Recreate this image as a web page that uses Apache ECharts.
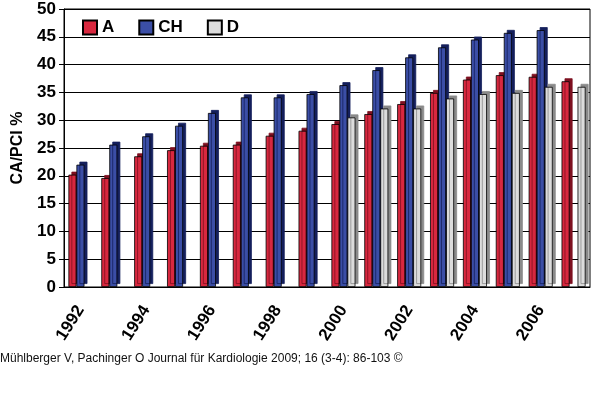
<!DOCTYPE html>
<html>
<head>
<meta charset="utf-8">
<script src="https://cdn.jsdelivr.net/npm/echarts@6/dist/echarts.min.js"></script>
<style>
  html, body { margin: 0; padding: 0; background: #fff; }
  #main { width: 600px; height: 410px; }
</style>
</head>
<body>
<div id="main"></div>
<script>
const years = ['1992', '1993', '1994', '1995', '1996', '1997', '1998', '1999',
  '2000', '2001', '2002', '2003', '2004', '2005', '2006', '2007'];
const valuesA = [20.2, 19.6, 23.5, 24.6, 25.4, 25.6, 27.2, 28.1, 29.3, 31.1, 32.9, 34.9, 37.3, 38.1, 37.8, 37.0];
const valuesCH = [22.0, 25.6, 27.1, 29.0, 31.3, 34.1, 34.1, 34.7, 36.3, 39.0, 41.3, 43.1, 44.5, 45.7, 46.2, null];
const valuesD = [null, null, null, null, null, null, null, null, 30.5, 32.1, 32.1, 33.9, 34.7, 34.9, 36.0, 36.0];
const yTicks = [0, 5, 10, 15, 20, 25, 30, 35, 40, 45, 50];
const footer = 'Mühlberger V, Pachinger O Journal für Kardiologie 2009; 16 (3-4): 86-103 ©';

let myChart = echarts.init(document.getElementById('main'));

// bar with a dark "side" drawn as offset shadow, mimics the 3D look
function barSeries(name, data, color, side) {
  return {
    name: name,
    type: 'bar',
    data: data,
    barWidth: 8,
    barGap: '0%',
    itemStyle: {
      color: color,
      borderColor: '#000',
      borderWidth: 0.8,
      shadowColor: side,
      shadowOffsetX: 3,
      shadowOffsetY: -3,
      shadowBlur: 0
    },
    animation: false
  };
}

let option = {
  backgroundColor: '#fff',
  textStyle: { fontFamily: 'Liberation Sans, Arial, sans-serif' },
  title: {
    text: footer,
    left: 0,
    top: 353,
    padding: 0,
    textStyle: { fontSize: 12, fontWeight: 'normal', color: '#111', fontFamily: 'Liberation Sans, Arial' }
  },
  legend: {
    left: 77,
    top: 14,
    itemWidth: 14,
    itemHeight: 14,
    itemGap: 24,
    icon: 'rect',
    data: ['A', 'CH', 'D'],
    textStyle: { fontSize: 17, fontWeight: 'bold', color: '#000' }
  },
  grid: {
    left: 64,
    right: 10,
    top: 9,
    bottom: 123,
    show: true,
    borderColor: '#000',
    borderWidth: 1
  },
  xAxis: {
    type: 'category',
    data: years,
    axisLine: { lineStyle: { color: '#000', width: 1 } },
    axisTick: { interval: 0, length: 5, lineStyle: { color: '#000' } },
    axisLabel: {
      interval: 1,
      rotate: 58,
      fontSize: 17,
      fontWeight: 'bold',
      color: '#000',
      margin: 20
    }
  },
  yAxis: {
    type: 'value',
    min: yTicks[0],
    max: yTicks[yTicks.length - 1],
    interval: 5,
    name: 'CA/PCI %',
    nameLocation: 'middle',
    nameRotate: 90,
    nameGap: 38,
    nameTextStyle: { fontSize: 16, fontWeight: 'bold', color: '#000' },
    axisLine: { show: true, lineStyle: { color: '#000' } },
    axisTick: { show: true, length: 5, lineStyle: { color: '#000' } },
    axisLabel: { fontSize: 17, fontWeight: 'bold', color: '#000', margin: 8 },
    splitLine: { lineStyle: { color: '#000', width: 1 } }
  },
  series: [
    barSeries('A', valuesA, '#d8283f', '#7d1020'),
    barSeries('CH', valuesCH, '#3b4ea6', '#141f5c'),
    barSeries('D', valuesD, '#dcdcdc', '#8a8a8a')
  ]
};
myChart.setOption(option);
</script>
</body>
</html>
